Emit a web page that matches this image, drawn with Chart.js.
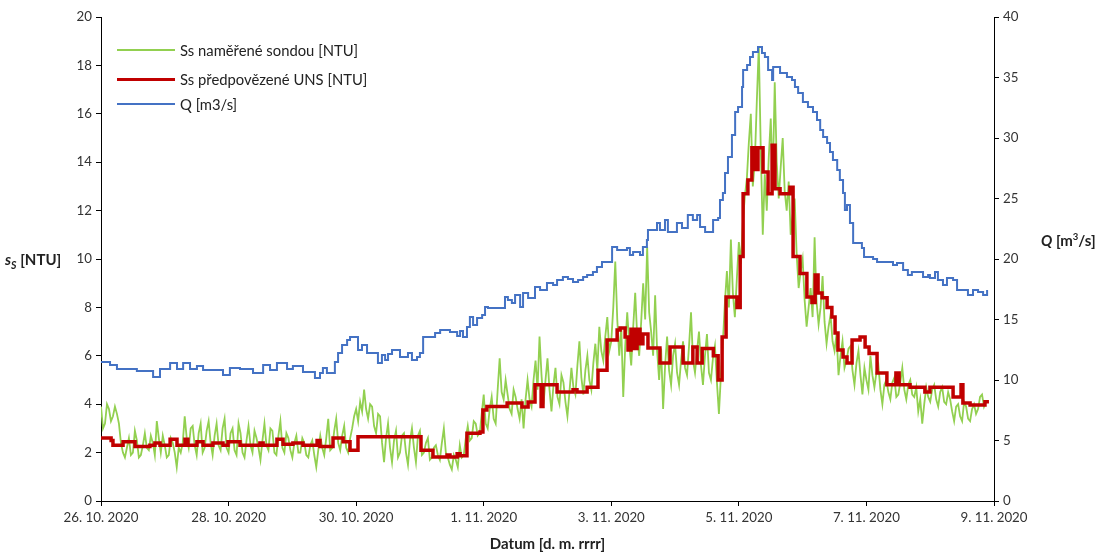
<!DOCTYPE html>
<html>
<head>
<meta charset="utf-8">
<script src="https://cdn.jsdelivr.net/npm/chart.js@4"></script>
<style>
  html, body { margin: 0; padding: 0; background: #fff; }
  #wrap { position: relative; width: 1105px; height: 553px; font-family: Lato, "Open Sans", sans-serif; }
  canvas { position: absolute; left: 0; top: 0; }
  .lg { position: absolute; left: 117px; font-size: 14.8px; color: #222; display: flex; align-items: center; }
  .lg span.ln { display: inline-block; width: 58px; margin-right: 5px; }
  .ytitle { position: absolute; font-weight: bold; font-size: 15px; color: #222; white-space: nowrap; }
</style>
</head>
<body>
<div id="wrap">
  <canvas id="c" width="1105" height="553"></canvas>
  <div class="lg" style="top:41px"><span class="ln" style="border-top:2px solid #92D050"></span>Ss naměřené sondou [NTU]</div>
  <div class="lg" style="top:70px"><span class="ln" style="border-top:3px solid #C00000"></span>Ss předpovězené UNS [NTU]</div>
  <div class="lg" style="top:95px"><span class="ln" style="border-top:2px solid #4472C4"></span>Q [m3/s]</div>
  <div class="ytitle" style="left:5px; top:250px;"><i>s<sub style="font-size:10.5px">S</sub></i> [NTU]</div>
  <div class="ytitle" style="left:1041px; top:231px;"><i>Q</i> [m<sup style="font-size:9.5px">3</sup>/s]</div>
</div>
<script>
// x in hours from 26. 10. 2020 00:00
const dateLabels = ['26. 10. 2020','28. 10. 2020','30. 10. 2020','1. 11. 2020','3. 11. 2020','5. 11. 2020','7. 11. 2020','9. 11. 2020'];

// Ss measured by probe [NTU], sampled every 0.75 h from 26.10. 0:00
const greenStepHours = 0.75;
const greenValues = [
  3.9,3.0,3.2,4.0,3.8,3.3,3.5,3.9,3.6,3.2,2.4,2.0,1.8,2.2,2.6,1.9,2.0,2.9,2.5,1.8,
  1.9,2.3,2.8,2.2,2.1,2.7,2.4,1.9,3.3,2.6,2.0,2.7,2.3,1.8,1.9,2.6,2.4,2.0,1.4,2.2,
  2.0,2.4,3.5,2.6,2.2,3.0,3.1,2.3,1.9,2.8,3.2,2.0,2.2,2.9,3.3,2.4,1.9,2.7,3.2,2.3,
  2.1,3.0,3.4,2.2,2.0,2.8,3.0,2.1,1.9,3.2,2.8,2.0,1.8,2.5,3.1,2.3,2.0,2.9,2.6,2.2,
  1.7,2.5,3.2,2.3,2.1,3.0,2.9,2.0,1.9,2.7,3.3,2.2,2.0,2.8,2.6,2.1,1.8,2.4,2.7,2.0,
  2.0,2.6,2.4,1.9,1.8,2.3,2.5,1.9,1.4,2.1,2.7,2.2,1.9,2.6,3.4,2.1,2.2,2.9,3.4,2.4,
  2.1,2.7,3.1,2.2,2.0,2.6,3.0,3.5,3.8,3.3,4.1,3.7,4.6,3.8,3.4,4.0,3.9,3.1,2.8,3.6,
  3.5,2.4,1.6,2.6,3.2,2.2,1.6,2.5,2.9,1.8,2.0,2.7,
  2.8,2.0,1.5,2.5,3.0,2.2,1.6,2.7,2.9,1.9,2.0,2.4,2.6,1.7,1.8,2.2,2.3,1.9,1.7,2.4,
  3.0,2.0,1.8,1.5,1.3,1.9,1.7,1.4,2.3,1.8,1.9,2.6,3.1,2.5,2.6,3.3,3.2,2.7,2.8,3.6,
  4.4,3.2,3.0,3.8,4.3,3.4,3.2,4.6,5.9,4.5,
  4.2,5.0,4.4,3.8,3.6,4.6,4.3,3.8,3.4,4.2,3.0,4.2,5.0,4.2,3.9,5.0,5.8,4.6,6.8,5.2,
  4.0,5.0,5.9,4.6,3.7,4.8,5.5,4.3,4.0,5.2,4.9,4.1,3.5,4.5,5.5,4.7,4.4,5.6,6.6,5.1,
  4.4,5.4,6.0,5.0,4.6,5.7,6.5,5.4,7.2,6.2,5.8,6.8,7.6,6.2,6.6,8.0,9.9,7.5,6.0,7.2,
  4.3,6.4,7.8,6.5,5.6,7.2,8.6,6.8,6.0,7.4,9.0,7.5,10.5,7.8,7.0,6.0,8.5,6.2,5.0,6.3,
  3.8,5.6,6.8,5.4,4.8,6.0,6.5,5.3,4.8,5.8,6.6,5.5,5.2,6.4,7.8,5.8,5.3,6.2,7.0,5.6,
  4.8,6.0,6.9,5.3,5.0,5.9,6.4,4.9,3.6,5.2,6.6,8.2,9.5,8.0,10.8,8.6,7.6,9.2,10.7,9.8,
  11.5,12.6,13.3,14.8,16.0,13.0,14.0,16.5,18.8,14.5,11.0,13.5,12.0,14.2,15.8,13.2,17.3,14.0,12.5,13.8,
  15.0,12.8,12.0,13.2,11.0,11.8,12.5,10.2,8.8,9.5,10.0,8.3,7.2,8.0,8.8,7.6,10.9,8.2,7.3,8.0,
  9.3,7.4,6.5,7.2,7.7,6.6,6.2,6.9,5.2,6.0,6.6,5.5,5.8,6.3,6.4,5.4,4.8,5.7,6.2,5.2,
  4.4,5.5,5.0,4.6,6.0,5.2,4.7,5.3,5.6,4.6,4.0,4.8,5.0,4.5,4.2,4.9,5.1,4.3,4.4,4.9,
  5.5,4.6,4.2,4.8,5.0,4.4,4.3,4.7,3.7,4.2,3.2,4.0,4.7,4.3,4.1,4.6,4.8,4.2,3.9,4.5,
  4.7,4.1,4.0,4.5,4.2,3.7,3.3,3.9,4.0,3.5,3.3,4.1,3.9,3.4,3.3,3.8,4.0,3.6,3.8,4.3,
  4.4,3.9,4.1
];

// Ss predicted by ANN [NTU] (held value from each time until the next): hours, values
const redHours = [0,3.8,4.5,8.3,12.8,18.4,20.3,22.2,26.0,28.6,31.6,32.7,36.1,38.4,42.1,45.9,47.8,52.3,59.8,61.0,66.2,68.5,72.2,76.0,81.3,82.4,87.3,91.1,93.7,96.7,
  120.4,124.9,130.2,131.3,134.0,135.1,137.7,142.6,143.7,145.2,152.8,158.4,160.7,163.3,165.6,166.3,171.6,177.6,179.1,182.9,187.0,190.4,194.2,195.3,197.2,198.3,199.4,200.5,201.7,202.8,203.9,205.8,210.3,214.1,219.0,222.7,224.3,
  226.2,230.4,232.2,233.7,235.2,239.3,240.5,241.6,243.4,244.9,246.1,247.2,249.1,251.0,252.5,253.6,255.5,259.2,260.4,263.0,265.6,267.5,268.7,269.8,271.3,273.2,275.0,276.2,277.3,279.2,280.7,282.6,285.6,287.5,289.0,292.0,295.7,299.1,300.3,304.4,310.0,311.9,320.6,323.6,324.3,327.0,332.6,334.1];
const redValues = [2.6,2.5,2.3,2.45,2.25,2.3,2.4,2.3,2.55,2.3,2.55,2.3,2.45,2.3,2.4,2.3,2.45,2.3,2.4,2.3,2.55,2.35,2.4,2.3,2.5,2.25,2.6,2.45,2.1,2.65,
  2.1,1.82,1.9,1.82,1.95,1.87,2.8,2.85,3.76,3.9,4.05,3.88,4.09,4.8,3.9,4.8,4.5,4.6,4.5,4.7,5.4,6.65,7.07,7.15,6.78,6.24,7.1,6.3,7.1,6.5,6.9,6.32,5.7,6.36,5.7,6.36,5.7,
  6.3,6.0,5.0,6.78,8.43,8.0,10.1,12.7,13.26,14.6,13.7,14.6,13.6,12.7,14.7,12.9,12.7,12.97,10.1,9.4,8.43,8.2,9.34,8.6,8.4,8.0,7.6,6.94,6.24,5.95,5.7,6.65,6.78,6.36,6.1,5.29,4.8,5.29,4.8,4.7,4.5,4.7,4.3,4.8,4.05,3.97,4.1,4.1];

// Q discharge [m3/s] (held value from each time until the next): hours, values
const qHours = [0,3.4,6.0,13.5,19.6,22.2,26.0,28.6,30.9,33.5,36.1,38.4,45.9,48.5,52.3,57.2,61.0,63.6,66.2,70.0,72.2,76.0,80.5,82.4,83.5,85.0,88.0,89.2,90.7,92.6,93.7,96.7,98.2,100.1,104.2,105.7,106.9,108.0,109.5,112.5,115.5,117.0,118.9,120.0,
  121.2,125.7,127.6,131.3,134.0,135.1,136.2,137.7,138.8,140.0,141.5,143.4,144.5,145.6,152.0,153.1,154.6,155.8,157.7,158.8,160.7,163.3,165.2,167.8,170.1,171.6,173.8,175.7,177.6,179.5,181.4,182.9,185.1,186.6,188.5,192.3,194.2,197.9,199.0,200.2,202.8,203.9,205.4,205.8,
  209.2,210.3,212.2,213.3,216.7,218.6,220.8,222.7,224.3,225.4,227.3,230.3,232.2,232.9,234.0,234.8,235.9,237.4,238.6,239.7,241.2,241.6,243.1,244.2,245.3,247.2,248.7,249.8,251.0,252.5,252.9,255.5,258.1,260.0,261.1,262.3,264.1,266.0,267.9,269.4,270.6,271.7,273.2,274.3,275.4,277.0,278.0,279.2,279.9,280.7,281.8,283.0,286.3,287.1,290.5,292.0,298.0,299.5,301.8,303.6,305.1,309.3,311.2,311.9,313.8,314.9,316.8,318.3,320.6,322.1,326.2,328.1,330.0,331.9,333.4];
const qValues = [11.49,11.24,10.91,10.74,10.25,10.91,11.40,10.91,11.40,10.91,11.16,10.83,10.41,10.99,10.91,10.58,11.24,10.83,11.40,10.91,11.16,10.66,10.17,10.58,10.99,10.58,11.49,12.23,12.89,13.31,13.55,12.48,12.89,12.23,11.40,12.07,11.65,12.15,12.48,11.90,12.23,11.65,11.90,12.23,
  13.55,13.88,14.13,13.97,13.64,14.05,13.55,14.38,15.21,14.55,15.12,15.37,16.03,15.95,16.86,16.61,16.36,17.02,16.03,17.19,16.78,17.69,17.44,18.02,17.85,18.26,18.51,18.35,18.10,18.26,18.51,18.68,18.93,19.34,19.75,20.99,20.74,20.91,20.33,20.58,20.33,20.99,21.57,22.40,
  22.98,22.40,23.22,22.23,22.98,22.56,23.64,23.22,23.64,22.64,22.23,23.22,23.39,24.88,25.45,27.11,28.43,30.25,32.15,32.56,34.21,35.62,36.03,36.69,37.11,37.52,37.02,36.69,35.62,34.79,35.87,35.37,35.04,34.79,34.21,33.72,32.98,32.56,32.15,31.49,30.66,30.08,29.59,28.84,28.18,27.36,26.53,25.45,24.05,24.46,22.98,21.32,20.91,20.17,20.00,19.75,19.50,19.67,19.09,18.68,18.93,18.51,18.68,18.43,18.93,18.26,17.85,18.43,18.26,17.44,17.02,17.44,17.27,17.02,17.44];

const greenData = greenValues.map((v, i) => ({x: i * greenStepHours, y: v}));
const redData = redHours.map((h, i) => ({x: h, y: redValues[i]}));
const qData = qHours.map((h, i) => ({x: h, y: qValues[i]}));

const FONT = 'Lato, "Open Sans", sans-serif';
const tickFont = {family: FONT, size: 13.3};

new Chart(document.getElementById('c'), {
  type: 'line',
  data: {
    datasets: [
      {label: 'Ss naměřené sondou [NTU]', data: greenData, borderColor: '#92D050', borderWidth: 1.8, pointRadius: 0, yAxisID: 'y', order: 3, tension: 0},
      {label: 'Ss předpovězené UNS [NTU]', data: redData, borderColor: '#C00000', borderWidth: 3.5, pointRadius: 0, yAxisID: 'y', order: 1, stepped: 'before'},
      {label: 'Q [m3/s]', data: qData, borderColor: '#4472C4', borderWidth: 2, pointRadius: 0, yAxisID: 'y1', order: 2, stepped: 'before'}
    ]
  },
  options: {
    responsive: false,
    animation: false,
    events: [],
    layout: {padding: {top: 17, left: 0, right: 0, bottom: 0}},
    plugins: {legend: {display: false}, tooltip: {enabled: false}},
    scales: {
      x: {
        type: 'linear', min: 0, max: 336,
        afterFit: s => { s.height = 52; },
        afterBuildTicks: s => { s.ticks = dateLabels.map((_, i) => ({value: i * 48})); },
        ticks: {font: tickFont, color: '#333', padding: 4, maxRotation: 0, autoSkip: false,
                callback: (v) => dateLabels[Math.round(v / 48)]},
        grid: {display: true, drawOnChartArea: false, drawTicks: true, tickLength: 5, color: '#000'},
        border: {display: true, color: '#000', width: 1},
        title: {display: true, text: 'Datum [d. m. rrrr]', font: {family: FONT, size: 15, weight: 'bold'}, color: '#222', padding: {top: 0, bottom: 0}}
      },
      y: {
        position: 'left', min: 0, max: 20,
        afterFit: s => { s.width = 101; },
        ticks: {stepSize: 2, font: tickFont, color: '#333', padding: 4},
        grid: {display: true, drawOnChartArea: false, drawTicks: true, tickLength: 5, color: '#000'},
        border: {display: true, color: '#000', width: 1}
      },
      y1: {
        position: 'right', min: 0, max: 40,
        afterFit: s => { s.width = 111; },
        ticks: {stepSize: 5, font: tickFont, color: '#333', padding: 4},
        grid: {display: true, drawOnChartArea: false, drawTicks: true, tickLength: 5, color: '#000'},
        border: {display: true, color: '#000', width: 1}
      }
    }
  }
});
</script>
</body>
</html>
